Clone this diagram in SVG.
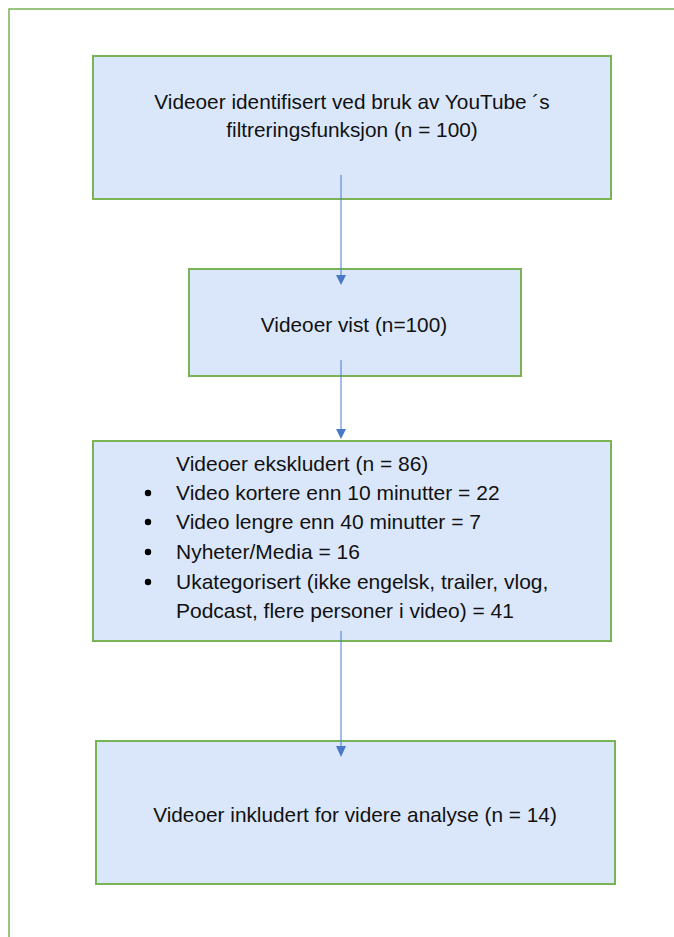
<svg xmlns="http://www.w3.org/2000/svg" width="674" height="937" viewBox="0 0 674 937">
<defs>
<style>
.box{fill:#dae7fb;stroke:#7ab356;stroke-width:2}
.t{font-family:"Liberation Sans",Arial,sans-serif;font-size:20.8px;fill:#111}
.t2{font-family:"Liberation Sans",Arial,sans-serif;font-size:21px;fill:#111}
.c{stroke:#4a78c8;stroke-width:1;fill:none}
.ah{fill:#4a78c8}
</style>
</defs>
<rect x="0" y="0" width="674" height="937" fill="#fff"/>
<rect id="frame" x="9" y="9" width="700" height="960" fill="none" stroke="#7ab356" stroke-width="1.5"/>
<g id="node1">
<rect class="box" x="93" y="56" width="518" height="143"/>
<text class="t" x="352" y="109" text-anchor="middle">Videoer identifisert ved bruk av YouTube ´s</text>
<text class="t" x="352" y="137" text-anchor="middle">filtreringsfunksjon (n = 100)</text>
</g>
<g id="node2">
<rect class="box" x="189" y="269" width="332" height="107"/>
<text class="t" x="354" y="332" text-anchor="middle">Videoer vist (n=100)</text>
</g>
<g id="node3">
<rect class="box" x="93" y="441" width="518" height="200"/>
<text class="t2" x="176" y="471">Videoer ekskludert (n = 86)</text>
<circle cx="148" cy="493" r="3.2"/>
<text class="t2" x="176" y="500">Video kortere enn 10 minutter = 22</text>
<circle cx="148" cy="522" r="3.2"/>
<text class="t2" x="176" y="529">Video lengre enn 40 minutter = 7</text>
<circle cx="148" cy="552" r="3.2"/>
<text class="t2" x="176" y="559">Nyheter/Media = 16</text>
<circle cx="148" cy="582" r="3.2"/>
<text class="t2" x="176" y="589">Ukategorisert (ikke engelsk, trailer, vlog,</text>
<text class="t2" x="176" y="618">Podcast, flere personer i video) = 41</text>
</g>
<g id="node4">
<rect class="box" x="96" y="741" width="519" height="143"/>
<text class="t" x="355" y="822" text-anchor="middle">Videoer inkludert for videre analyse (n = 14)</text>
</g>
<g id="connectors">
<line class="c" x1="341" y1="175" x2="341" y2="276"/>
<path class="ah" d="M336,275 L346,275 L341,285 Z"/>
<line class="c" x1="341" y1="360" x2="341" y2="430"/>
<path class="ah" d="M336,429 L346,429 L341,439 Z"/>
<line class="c" x1="341" y1="631" x2="341" y2="748"/>
<path class="ah" d="M336,746 L346,746 L341,757 Z"/>
</g>
</svg>
